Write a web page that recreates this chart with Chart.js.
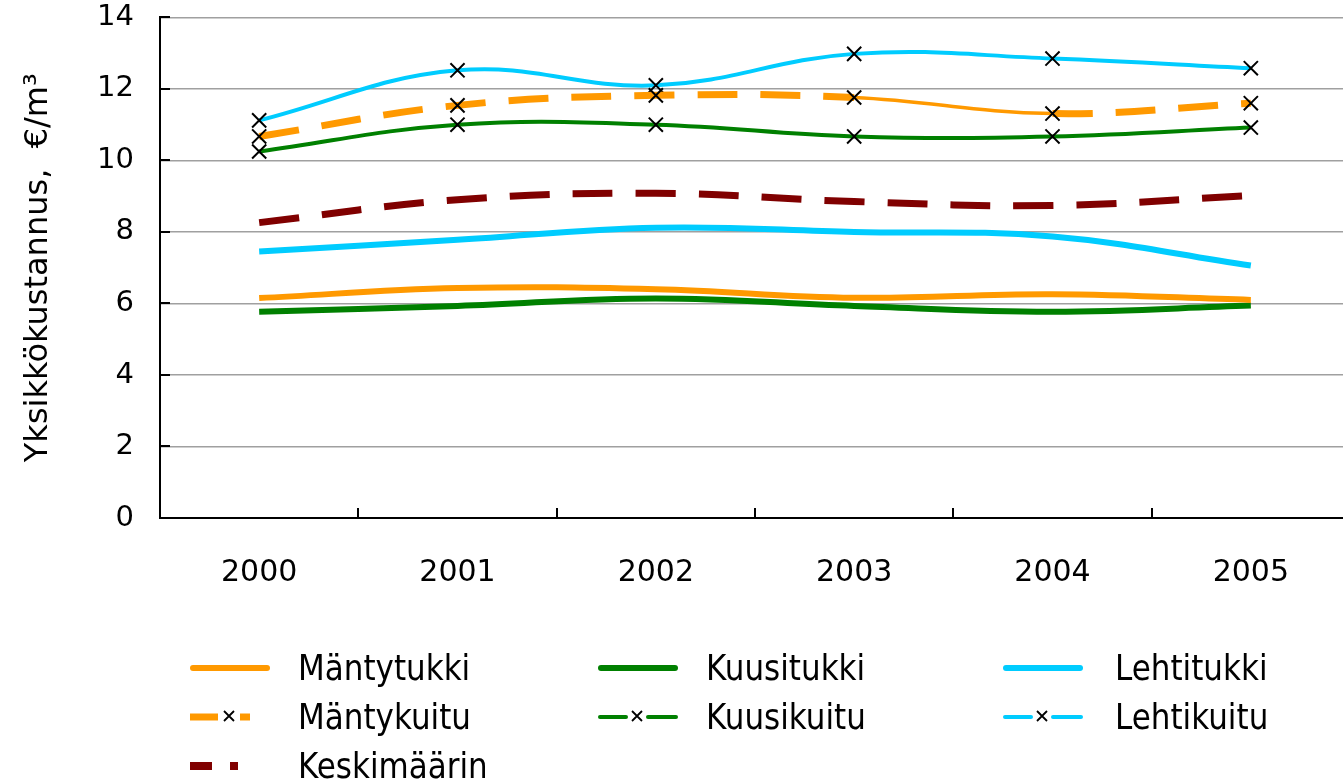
<!DOCTYPE html>
<html>
<head>
<meta charset="utf-8">
<script src="https://cdn.jsdelivr.net/npm/chart.js@4"></script>
<style>
  body { margin: 0; overflow: hidden; background: #fff; font-family: "DejaVu Sans", sans-serif; }
  #wrap { position: relative; width: 1362px; height: 783px; }
  #myChart { position: absolute; left: 0; top: -26px; }
  .leg { position: absolute; display: flex; align-items: center; height: 40px; }
  .leg svg { display: block; }
  .leg span { font-size: 31px; color: #000; display: inline-block; transform: scaleY(1.12); }
</style>
</head>
<body>
<div id="wrap">
  <canvas id="myChart" width="1362" height="809"></canvas>
  <div id="legend"></div>
</div>
<script>
// Vuodet ja sarjat (€/m³)
const vuodet = ['2000', '2001', '2002', '2003', '2004', '2005'];
const mantytukki = [6.15, 6.43, 6.40, 6.16, 6.26, 6.10];
const kuusitukki = [5.77, 5.93, 6.14, 5.93, 5.77, 5.94];
const lehtitukki = [7.45, 7.78, 8.12, 8.00, 7.87, 7.06];
const mantykuitu = [10.67, 11.54, 11.82, 11.76, 11.31, 11.60];
const kuusikuitu = [10.25, 11.00, 11.00, 10.67, 10.67, 10.92];
const lehtikuitu = [11.12, 12.52, 12.10, 12.98, 12.85, 12.58];
const keskimaarin = [8.26, 8.90, 9.08, 8.85, 8.74, 9.02];
const yTicks = [0, 2, 4, 6, 8, 10, 12, 14];

const ORANSSI = '#FF9900';
const VIHREA = '#008000';
const SININEN = '#00CCFF';
const TUMMA = '#800000';
const FONTTI = '"DejaVu Sans", sans-serif';

// sisäänpäin osoittavat tikit
const tikit = {
  id: 'tikit',
  afterDraw(chart) {
    const c = chart.ctx;
    const x = chart.scales.x, y = chart.scales.y;
    const a = chart.chartArea;
    c.save();
    c.strokeStyle = '#000';
    c.lineWidth = 2;
    yTicks.forEach(v => {
      const py = Math.round(y.getPixelForValue(v));
      c.beginPath(); c.moveTo(a.left, py); c.lineTo(a.left + 10, py); c.stroke();
    });
    const w = x.getPixelForValue(1) - x.getPixelForValue(0);
    for (let i = 1; i < vuodet.length; i++) {
      const px = Math.round(x.getPixelForValue(i) - w / 2);
      c.beginPath(); c.moveTo(px, a.bottom); c.lineTo(px, a.bottom - 10); c.stroke();
    }
    c.restore();
  }
};

const risti = {
  pointStyle: 'crossRot',
  pointRadius: 10,
  pointHoverRadius: 10,
  pointBorderColor: '#000',
  pointBorderWidth: 2
};

const ctx = document.getElementById('myChart').getContext('2d');
const myChart = new Chart(ctx, {
  type: 'line',
  data: {
    labels: vuodet,
    datasets: [
      { label: 'Keskimäärin', data: keskimaarin, borderColor: TUMMA, borderWidth: 7, borderDash: [40, 23], pointRadius: 0 },
      { label: 'Mäntytukki', data: mantytukki, borderColor: ORANSSI, borderWidth: 6, pointRadius: 0 },
      { label: 'Kuusitukki', data: kuusitukki, borderColor: VIHREA, borderWidth: 6, pointRadius: 0 },
      { label: 'Lehtitukki', data: lehtitukki, borderColor: SININEN, borderWidth: 6, pointRadius: 0 },
      Object.assign({ label: 'Mäntykuitu', data: mantykuitu, borderColor: ORANSSI, borderWidth: 7, borderDash: [40, 23],
        segment: {
          borderDash: s => s.p0DataIndex === 3 ? [] : undefined,
          borderWidth: s => s.p0DataIndex === 3 ? 3.5 : undefined
        } }, risti),
      Object.assign({ label: 'Kuusikuitu', data: kuusikuitu, borderColor: VIHREA, borderWidth: 4 }, risti),
      Object.assign({ label: 'Lehtikuitu', data: lehtikuitu, borderColor: SININEN, borderWidth: 4 }, risti)
    ]
  },
  options: {
    responsive: false,
    animation: false,
    events: [],
    layout: { padding: { top: 18, right: 6, bottom: 0, left: 0 } },
    elements: { line: { tension: 0.4, borderCapStyle: 'butt' } },
    plugins: { legend: { display: false }, tooltip: { enabled: false } },
    scales: {
      x: {
        offset: true,
        grid: { display: false, offset: true, drawTicks: false },
        border: { display: true, color: '#000', width: 2 },
        ticks: { color: '#000', padding: 37, font: { family: FONTTI, size: 30 } },
        afterFit: s => { s.height = 265; }
      },
      y: {
        min: 0,
        max: 14,
        afterBuildTicks: s => { s.ticks = yTicks.map(v => ({ value: v })); },
        grid: { color: '#a0a0a0', lineWidth: 1.5, drawTicks: false },
        border: { display: true, color: '#000', width: 2 },
        ticks: { color: '#000', padding: 26, font: { family: FONTTI, size: 29 } },
        title: {
          display: true,
          text: 'Yksikkökustannus,  €/m³',
          color: '#000',
          font: { family: FONTTI, size: 32 },
          padding: { top: 19, bottom: 0 }
        },
        afterFit: s => { s.width = 160; }
      }
    }
  },
  plugins: [tikit]
});

// selite HTML:nä, kolme saraketta
const selite = [
  { nimi: 'Mäntytukki', x: 190, y: 668, tyyli: 'tukki', vari: ORANSSI },
  { nimi: 'Kuusitukki', x: 598, y: 668, tyyli: 'tukki', vari: VIHREA },
  { nimi: 'Lehtitukki', x: 1003, y: 668, tyyli: 'tukki', vari: SININEN },
  { nimi: 'Mäntykuitu', x: 190, y: 717, tyyli: 'katko', vari: ORANSSI },
  { nimi: 'Kuusikuitu', x: 598, y: 717, tyyli: 'kuitu', vari: VIHREA },
  { nimi: 'Lehtikuitu', x: 1003, y: 717, tyyli: 'kuitu', vari: SININEN },
  { nimi: 'Keskimäärin', x: 190, y: 766, tyyli: 'keski', vari: TUMMA }
];
const xMerkki = '<path d="M34 4 L44 14 M44 4 L34 14" stroke="#000" stroke-width="1.8"/>';
function naytteet(s) {
  if (s.tyyli === 'tukki') return `<line x1="3" y1="10" x2="77" y2="10" stroke="${s.vari}" stroke-width="6" stroke-linecap="round"/>`;
  if (s.tyyli === 'kuitu') return `<line x1="2" y1="10" x2="28" y2="10" stroke="${s.vari}" stroke-width="4" stroke-linecap="round"/>` + xMerkki +
    `<line x1="50" y1="10" x2="78" y2="10" stroke="${s.vari}" stroke-width="4" stroke-linecap="round"/>`;
  if (s.tyyli === 'katko') return `<line x1="0" y1="10" x2="28" y2="10" stroke="${s.vari}" stroke-width="7"/>` + xMerkki +
    `<line x1="50" y1="10" x2="60" y2="10" stroke="${s.vari}" stroke-width="7"/>`;
  return `<line x1="0" y1="10" x2="22" y2="10" stroke="${s.vari}" stroke-width="8"/>` +
    `<line x1="40" y1="10" x2="48" y2="10" stroke="${s.vari}" stroke-width="8"/>`;
}
const leg = document.getElementById('legend');
selite.forEach(s => {
  const d = document.createElement('div');
  d.className = 'leg';
  d.style.left = s.x + 'px';
  d.style.top = (s.y - 20) + 'px';
  d.innerHTML = `<svg width="80" height="20">${naytteet(s)}</svg><span style="margin-left:${s.x === 1003 ? 32 : 28}px">${s.nimi}</span>`;
  leg.appendChild(d);
});
</script>
</body>
</html>
